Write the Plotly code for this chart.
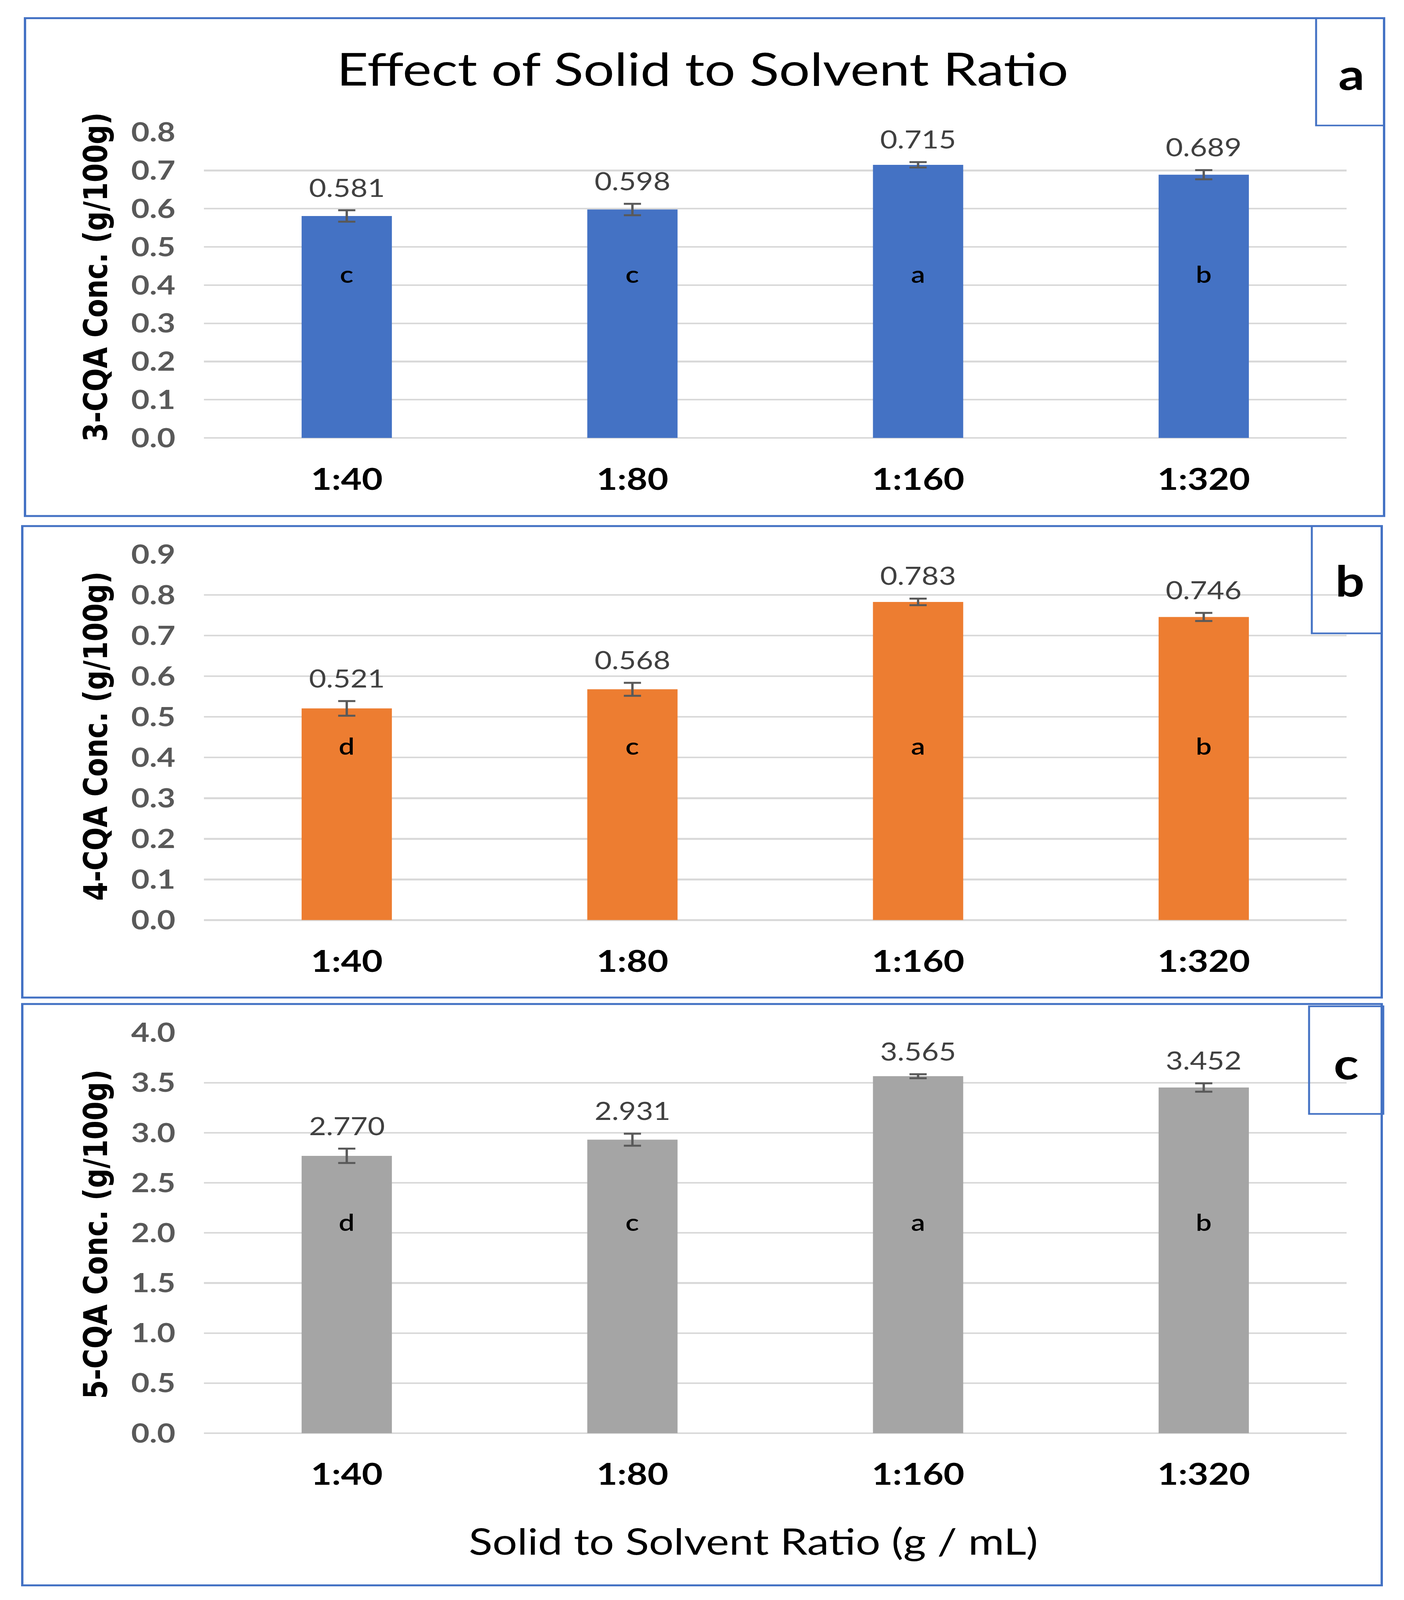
import plotly.graph_objects as go

# ---------------- data ----------------
categories = ["1:40", "1:80", "1:160", "1:320"]

cqa3 = [0.581, 0.598, 0.715, 0.689]
err3 = [0.015, 0.015, 0.007, 0.012]
letters3 = ["c", "c", "a", "b"]

cqa4 = [0.521, 0.568, 0.783, 0.746]
err4 = [0.018, 0.016, 0.008, 0.010]
letters4 = ["d", "c", "a", "b"]

cqa5 = [2.770, 2.931, 3.565, 3.452]
err5 = [0.072, 0.060, 0.020, 0.042]
letters5 = ["d", "c", "a", "b"]

ytitles = ["3-CQA Conc. (g/100g)", "4-CQA Conc. (g/100g)", "5-CQA Conc. (g/100g)"]
panel_tags = ["a", "b", "c"]
title_text = "Effect of Solid to Solvent Ratio"
xtitle_text = "Solid to Solvent Ratio (g / mL)"

# ---------------- style ----------------
W, H = 3594, 4921
BLUE = "#4472C4"
ORANGE = "#ED7D31"
GREY = "#A5A5A5"
GRID = "#D9D9D9"
FONT = "Lato, Carlito, Calibri, sans-serif"


def px(x):
    return x / W


def py(y):
    return 1 - y / H


panels = [
    dict(vals=cqa3, errs=err3, letters=letters3, color=BLUE, rng=[0, 0.8], dtick=0.1,
         dom=[py(1347), py(407)], letter_y=0.43, ytitle_y=852),
    dict(vals=cqa4, errs=err4, letters=letters4, color=ORANGE, rng=[0, 0.9], dtick=0.1,
         dom=[py(2830), py(1705)], letter_y=0.43, ytitle_y=2264),
    dict(vals=cqa5, errs=err5, letters=letters5, color=GREY, rng=[0, 4.0], dtick=0.5,
         dom=[py(4408), py(3176)], letter_y=2.11, ytitle_y=3796),
]

fig = go.Figure()
annotations = []
layout = {}
xdom = [px(522), px(3447)]

for i, p in enumerate(panels):
    n = "" if i == 0 else str(i + 1)
    xa, ya = "x" + n, "y" + n
    fig.add_trace(go.Bar(
        x=categories, y=p["vals"], xaxis=xa, yaxis=ya,
        marker=dict(color=p["color"], line=dict(width=0)),
        width=0.316,
        error_y=dict(type="data", array=p["errs"], visible=True,
                     color="#595959", thickness=6, width=22),
        showlegend=False, hoverinfo="skip",
    ))
    layout["xaxis" + n] = dict(
        domain=xdom, anchor=ya, type="category", automargin=False,
        showgrid=False, zeroline=False, showline=False, ticks="",
        tickfont=dict(family=FONT, size=92, color="#000000", weight="bold"),
        ticklabelstandoff=66,
    )
    layout["yaxis" + n] = dict(
        domain=p["dom"], anchor=xa, range=p["rng"], dtick=p["dtick"], tick0=0,
        automargin=False,
        tickformat=".1f", showgrid=True, gridcolor=GRID, gridwidth=5,
        zeroline=True, zerolinecolor=GRID, zerolinewidth=5,
        showline=False, ticks="",
        tickfont=dict(family=FONT, size=81, color="#595959", weight="bold"),
        ticklabelstandoff=72,
    )
    # value labels above error bars
    for c, v, e in zip(categories, p["vals"], p["errs"]):
        annotations.append(dict(
            x=c, y=v + e, xref=xa, yref=ya, text=f"{v:.3f}", showarrow=False,
            yanchor="bottom", yshift=24,
            font=dict(family=FONT, size=76, color="#404040"),
        ))
    # significance letters inside bars
    for c, l in zip(categories, p["letters"]):
        annotations.append(dict(
            x=c, y=p["letter_y"], xref=xa, yref=ya, text=l, showarrow=False,
            yanchor="middle",
            font=dict(family=FONT, size=72, color="#000000", weight=600),
        ))
    # y-axis title
    annotations.append(dict(
        x=px(245), y=py(p["ytitle_y"]), xref="paper", yref="paper",
        text=ytitles[i], textangle=-90, showarrow=False,
        xanchor="center", yanchor="middle",
        font=dict(family="DejaVu Sans, Verdana, sans-serif", size=84,
                  color="#000000", weight="bold"),
    ))

# title and x-axis title
annotations.append(dict(
    x=px(1799), y=py(209), xref="paper", yref="paper", text=title_text,
    showarrow=False, xanchor="center", yanchor="middle",
    font=dict(family=FONT, size=140, color="#000000"),
))
annotations.append(dict(
    x=px(1929), y=py(4738), xref="paper", yref="paper", text=xtitle_text,
    showarrow=False, xanchor="center", yanchor="middle",
    font=dict(family=FONT, size=112, color="#000000"),
))

# panel tags
tag_pos = [(3459, 225), (3455, 1783), (3446, 3268)]
for t, (tx, ty) in zip(panel_tags, tag_pos):
    annotations.append(dict(
        x=px(tx), y=py(ty), xref="paper", yref="paper", text=t,
        showarrow=False, xanchor="center", yanchor="middle",
        font=dict(family=FONT, size=132, color="#000000", weight="bold"),
    ))

# borders
shapes = []
outer = [(64, 56, 3543, 1587), (57, 1618, 3537, 3068), (57, 3088, 3537, 4876)]
for (x0, y0, x1, y1) in outer:
    shapes.append(dict(type="rect", xref="paper", yref="paper",
                       x0=px(x0), x1=px(x1), y0=py(y1), y1=py(y0),
                       line=dict(color=BLUE, width=6), fillcolor="rgba(0,0,0,0)",
                       layer="above"))
inner = [(3369, 56, 3543, 386), (3358, 1618, 3537, 1948), (3351, 3095, 3541, 3426)]
for (x0, y0, x1, y1) in inner:
    shapes.append(dict(type="rect", xref="paper", yref="paper",
                       x0=px(x0), x1=px(x1), y0=py(y1), y1=py(y0),
                       line=dict(color=BLUE, width=5), fillcolor="rgba(0,0,0,0)",
                       layer="above"))

fig.update_layout(
    width=W, height=H,
    margin=dict(l=0, r=0, t=0, b=0, pad=0, autoexpand=False),
    paper_bgcolor="white", plot_bgcolor="white",
    bargap=0.684,
    annotations=annotations, shapes=shapes,
    **layout,
)

# remove page margins and fit the fixed-size figure into the window
post_script = """
(function(){
  document.documentElement.style.margin='0';
  document.body.style.margin='0';
  document.body.style.overflow='hidden';
  var gd=document.getElementById('{plot_id}');
  function fit(){
    var vw=window.innerWidth, vh=window.innerHeight;
    if(!vw||!vh){return;}
    var sx=vw/%d, sy=vh/%d;
    if(Math.abs(sx-1)<0.002 && Math.abs(sy-1)<0.002){gd.style.transform='';return;}
    gd.style.transformOrigin='0 0';
    gd.style.transform='scale('+sx+','+sy+')';
  }
  fit();
  window.addEventListener('resize', fit);
})();
""" % (W, H)

fig.write_html("out.html", config={"displayModeBar": False}, post_script=post_script)
